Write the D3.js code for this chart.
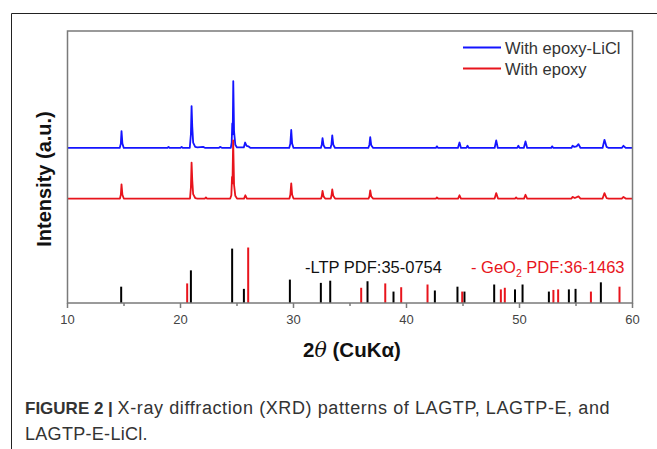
<!DOCTYPE html>
<html>
<head>
<meta charset="utf-8">
<script src="https://cdn.jsdelivr.net/npm/d3@7"></script>
<style>
  html, body { margin: 0; padding: 0; background: #fff; }
  svg { display: block; font-family: Arial, "Liberation Sans", sans-serif; }
</style>
</head>
<body>
<div id="chart"></div>
<script>
// XRD patterns: [2theta, intensity above own baseline]
var withEpoxyLiCl = [
  [10, 0],
  [14.62, 0], [14.72, 8], [14.78, 31], [14.86, 8], [14.98, 0],
  [18.85, 0], [18.94, 2], [19.05, 0],
  [20.0, 0], [20.1, 2], [20.2, 0],
  [20.82, 0], [20.92, 25], [20.98, 77], [21.04, 40], [21.12, 10], [21.3, 2], [21.5, 1], [22.0, 2], [22.2, 0],
  [23.4, 0], [23.5, 2], [23.7, 0],
  [24.45, 0], [24.53, 10], [24.58, 45], [24.62, 25], [24.67, 123], [24.74, 30], [24.85, 6], [25.0, 1],
  [25.6, 1], [25.72, 10], [25.85, 4], [26.0, 3], [26.2, 0],
  [29.62, 0], [29.72, 8], [29.8, 33], [29.88, 8], [30.0, 0],
  [32.42, 0], [32.5, 6], [32.57, 18], [32.66, 5], [32.8, 0],
  [33.28, 0], [33.36, 7], [33.43, 23], [33.52, 6], [33.68, 0],
  [36.62, 0], [36.72, 6], [36.79, 20], [36.88, 5], [37.05, 0],
  [42.6, 0], [42.69, 3], [42.8, 0],
  [44.55, 0], [44.69, 10], [44.82, 0],
  [45.3, 0], [45.4, 4], [45.5, 0],
  [47.8, 0], [47.94, 14], [48.08, 0],
  [49.8, 0], [49.9, 4], [50.0, 0], [50.38, 0], [50.53, 12], [50.68, 0],
  [52.8, 0], [52.89, 3], [53.0, 0],
  [54.6, 0], [54.69, 4], [54.85, 2], [55.05, 3], [55.22, 7], [55.4, 0],
  [57.35, 0], [57.52, 15], [57.7, 2], [57.9, 0],
  [59.05, 0], [59.2, 4], [59.4, 0],
  [60, 0]
];

var withEpoxy = [
  [10, 0],
  [14.64, 0], [14.72, 7], [14.78, 26], [14.86, 7], [14.98, 0],
  [20.84, 0], [20.92, 20], [20.98, 66], [21.04, 34], [21.12, 8], [21.3, 1], [21.5, 0],
  [22.15, 0], [22.25, 2], [22.35, 0],
  [24.4, 0], [24.5, 6], [24.56, 40], [24.6, 28], [24.66, 107], [24.74, 25], [24.85, 5], [25.0, 0],
  [25.62, 0], [25.74, 6], [25.88, 0],
  [29.64, 0], [29.72, 7], [29.8, 28], [29.88, 7], [30.0, 0],
  [32.44, 0], [32.5, 4], [32.57, 14], [32.66, 4], [32.8, 0],
  [33.3, 0], [33.36, 5], [33.43, 17], [33.52, 5], [33.68, 0],
  [36.64, 0], [36.72, 4], [36.79, 15], [36.88, 4], [37.05, 0],
  [42.6, 0], [42.69, 2], [42.8, 0],
  [44.56, 0], [44.69, 6], [44.82, 0],
  [47.8, 0], [47.94, 10], [48.1, 0],
  [49.6, 0], [49.7, 2], [49.8, 0],
  [50.4, 0], [50.53, 7], [50.68, 0],
  [54.6, 0], [54.69, 3], [54.9, 1], [55.22, 4], [55.4, 0],
  [57.35, 0], [57.52, 10], [57.7, 1], [57.9, 0],
  [59.05, 0], [59.2, 3], [59.4, 0],
  [60, 0]
];

// reference patterns (relative intensity)
var ltpPositions = [14.75, 20.92, 24.57, 25.61, 29.68, 32.42, 33.25, 36.55, 38.85, 42.51, 44.51, 45.13, 47.76, 49.6, 50.27, 52.6, 54.37, 54.96, 57.2];
var ltpIntensity = [30, 60, 100, 26, 43, 37, 41, 40, 21, 23, 30, 21, 34, 25, 34, 21, 25, 26, 38];
var geoPositions = [20.59, 25.99, 35.99, 38.12, 39.53, 41.86, 44.93, 48.35, 48.7, 53.0, 53.42, 56.32, 58.85];
var geoIntensity = [36, 102, 28, 36, 29, 34, 21, 25, 28, 24, 25, 21, 30];

var seriesNames = ['With epoxy-LiCl', 'With epoxy'];
var seriesColors = ['#1414ff', '#e8141c'];
var seriesOffsets = [285, 192];
var xTicks = [10, 20, 30, 40, 50, 60];
var xMinorTicks = [15, 25, 35, 45, 55];

var width = 657;
var height = 449;
var margin = { left: 67.5, right: 24.5, top: 31, bottom: 146 };
var plotW = width - margin.left - margin.right;
var plotH = height - margin.top - margin.bottom;

var svg = d3.select('#chart').append('svg').attr('width', width).attr('height', height);

// figure frame (top and left edges)
svg.append('path')
  .attr('d', 'M11.5,449 V13.5 H657')
  .attr('fill', 'none')
  .attr('stroke', '#222')
  .attr('stroke-width', 1);

var x = d3.scaleLinear().domain([10, 60]).range([margin.left, margin.left + plotW]);
var y = d3.scaleLinear().domain([0, 500]).range([margin.top + plotH, margin.top]);

var plot = svg.append('g');

// reference sticks
plot.selectAll('.ltp')
  .data(ltpPositions)
  .enter()
  .append('line')
  .attr('class', 'ltp')
  .attr('x1', function(d) { return x(d); })
  .attr('x2', function(d) { return x(d); })
  .attr('y1', y(0))
  .attr('y2', function(d, i) { return y(ltpIntensity[i]); })
  .attr('stroke', '#000')
  .attr('stroke-width', 2);

plot.selectAll('.geo')
  .data(geoPositions)
  .enter()
  .append('line')
  .attr('class', 'geo')
  .attr('x1', function(d) { return x(d); })
  .attr('x2', function(d) { return x(d); })
  .attr('y1', y(0))
  .attr('y2', function(d, i) { return y(geoIntensity[i]); })
  .attr('stroke', seriesColors[1])
  .attr('stroke-width', 2);

// patterns
[withEpoxyLiCl, withEpoxy].forEach(function(data, i) {
  var line = d3.line()
    .x(function(d) { return x(d[0]); })
    .y(function(d) { return y(d[1] + seriesOffsets[i]); });
  plot.append('path')
    .datum(data)
    .attr('d', line)
    .attr('fill', 'none')
    .attr('stroke', seriesColors[i])
    .attr('stroke-width', 1.8)
    .attr('stroke-linejoin', 'round');
});

// plot frame
svg.append('rect')
  .attr('x', margin.left)
  .attr('y', margin.top)
  .attr('width', plotW)
  .attr('height', plotH)
  .attr('fill', 'none')
  .attr('stroke', '#7a7a7a')
  .attr('stroke-width', 1.5);

// x axis ticks
var axis = svg.append('g').attr('transform', 'translate(0,' + (margin.top + plotH) + ')');
axis.selectAll('.major')
  .data(xTicks)
  .enter()
  .append('line')
  .attr('x1', function(d) { return x(d); })
  .attr('x2', function(d) { return x(d); })
  .attr('y1', 0)
  .attr('y2', 5)
  .attr('stroke', '#7a7a7a')
  .attr('stroke-width', 1.5);
axis.selectAll('.minor')
  .data(xMinorTicks)
  .enter()
  .append('line')
  .attr('x1', function(d) { return x(d); })
  .attr('x2', function(d) { return x(d); })
  .attr('y1', 0)
  .attr('y2', 3)
  .attr('stroke', '#7a7a7a')
  .attr('stroke-width', 1.5);
axis.selectAll('.tick-label')
  .data(xTicks)
  .enter()
  .append('text')
  .attr('x', function(d) { return x(d); })
  .attr('y', 21)
  .attr('text-anchor', 'middle')
  .attr('font-size', 13)
  .attr('fill', '#444')
  .text(function(d) { return d; });

// axis titles
var xTitle = svg.append('text')
  .attr('x', margin.left + plotW / 2 + 2)
  .attr('y', 357)
  .attr('text-anchor', 'middle')
  .attr('font-size', 20.5)
  .attr('font-weight', 'bold')
  .attr('fill', '#111');
xTitle.append('tspan').text('2');
xTitle.append('tspan').attr('font-style', 'italic').attr('font-weight', 'normal').attr('font-family', '"DejaVu Serif", serif').text('θ');
xTitle.append('tspan').text(' (CuKα)');

svg.append('text')
  .attr('transform', 'translate(51,' + (margin.top + 148) + ') rotate(-90)')
  .attr('text-anchor', 'middle')
  .attr('font-size', 20)
  .attr('font-weight', 'bold')
  .attr('fill', '#111')
  .text('Intensity (a.u.)');

// legend
seriesNames.forEach(function(name, i) {
  var ly = 47.5 + i * 21;
  svg.append('line')
    .attr('x1', 463).attr('x2', 501)
    .attr('y1', ly).attr('y2', ly)
    .attr('stroke', seriesColors[i])
    .attr('stroke-width', 2);
  svg.append('text')
    .attr('x', 505)
    .attr('y', ly + 6)
    .attr('font-size', 16.5)
    .attr('fill', '#333')
    .text(name);
});

// reference labels
svg.append('text')
  .attr('x', 305)
  .attr('y', 273)
  .attr('font-size', 16.5)
  .attr('fill', '#111')
  .text('-LTP PDF:35-0754');

var geoLabel = svg.append('text')
  .attr('x', 471)
  .attr('y', 273)
  .attr('font-size', 16.5)
  .attr('fill', seriesColors[1]);
geoLabel.append('tspan').text('- GeO');
geoLabel.append('tspan').attr('font-size', 10.5).attr('dy', 4).text('2');
geoLabel.append('tspan').attr('dy', -4).text(' PDF:36-1463');

// caption
var cap1 = svg.append('text')
  .attr('x', 25)
  .attr('y', 414)
  .attr('fill', '#333');
cap1.append('tspan').attr('font-weight', 'bold').attr('font-size', 17).text('FIGURE 2 | ');
cap1.append('tspan').attr('font-size', 18).attr('letter-spacing', 0.6).text('X-ray diffraction (XRD) patterns of LAGTP, LAGTP-E, and');

svg.append('text')
  .attr('x', 25)
  .attr('y', 440)
  .attr('font-size', 18)
  .attr('letter-spacing', 0.3)
  .attr('fill', '#333')
  .text('LAGTP-E-LiCl.');
</script>
</body>
</html>
